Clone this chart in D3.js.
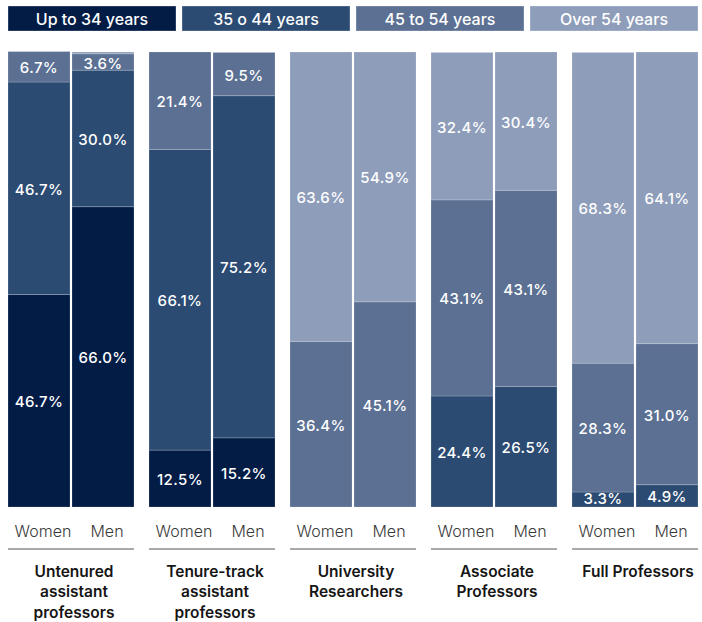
<!DOCTYPE html>
<html>
<head>
<meta charset="utf-8">
<script src="https://cdn.jsdelivr.net/npm/d3@7/dist/d3.min.js"></script>
<style>
  html, body { margin: 0; padding: 0; background: #ffffff; }
  svg { display: block; font-family: Inter, "Noto Sans", sans-serif; }
</style>
</head>
<body>
<svg id="chart" width="702" height="622"></svg>
<script>
// ---------- data ----------
const ageGroups = ["Up to 34 years", "35 o 44 years", "45 to 54 years", "Over 54 years"];
const categories = ["Untenured assistant professors", "Tenure-track assistant professors", "University Researchers", "Associate Professors", "Full Professors"];
const categoryLines = [
  ["Untenured", "assistant", "professors"],
  ["Tenure-track", "assistant", "professors"],
  ["University", "Researchers"],
  ["Associate", "Professors"],
  ["Full Professors"]
];
const genders = ["Women", "Men"];
// values per category, [women, men], each ordered by ageGroups (bottom to top)
const upTo34 = [[46.7, 66.0], [12.5, 15.2], [0, 0], [0, 0], [0, 0]];
const from35to44 = [[46.7, 30.0], [66.1, 75.2], [0, 0], [24.4, 26.5], [3.3, 4.9]];
const from45to54 = [[6.7, 3.6], [21.4, 9.5], [36.4, 45.1], [43.1, 43.1], [28.3, 31.0]];
const over54 = [[0, 0.4], [0, 0], [63.6, 54.9], [32.4, 30.4], [68.3, 64.1]];
const seriesValues = [upTo34, from35to44, from45to54, over54];
const colors = ["#021c46", "#2c4b72", "#5b7093", "#8e9dba"];

// ---------- build ----------
const svg = d3.select("#chart");
const color = d3.scaleOrdinal().domain(ageGroups).range(colors);

const x0 = d3.scaleBand().domain(categories).range([8, 698]).paddingInner(15 / 141);
const x1 = d3.scaleBand().domain(genders).range([0, x0.bandwidth()]).paddingInner(2 / 64);
const y = d3.scaleLinear().domain([0, 100]).range([507, 52]);

// legend
const lx = d3.scaleBand().domain(ageGroups).range([8, 698]).paddingInner(6 / 174);
const legend = svg.append("g").selectAll("g").data(ageGroups).join("g");
legend.append("rect")
  .attr("x", d => lx(d)).attr("y", 6)
  .attr("width", lx.bandwidth()).attr("height", 25)
  .attr("fill", d => color(d))
  .attr("stroke", "rgba(255,255,255,0.3)").attr("stroke-width", 1);
legend.append("text")
  .attr("x", d => lx(d) + lx.bandwidth() / 2).attr("y", 19)
  .attr("text-anchor", "middle").attr("dominant-baseline", "central")
  .attr("fill", "#ffffff").attr("font-size", 16).attr("font-weight", 500)
  .text(d => d);

// stacked bars
const records = [];
categories.forEach((c, ci) => {
  genders.forEach((g, gi) => {
    let acc = 0;
    ageGroups.forEach((a, ai) => {
      const v = seriesValues[ai][ci][gi];
      records.push({cat: c, gender: g, age: a, v: v, y0: acc, y1: acc + v});
      acc += v;
    });
  });
});
const barData = records.filter(d => d.v > 0);

const bars = svg.append("g");
bars.selectAll("rect").data(barData).join("rect")
  .attr("x", d => x0(d.cat) + x1(d.gender))
  .attr("width", x1.bandwidth())
  .attr("y", d => y(d.y1))
  .attr("height", d => y(d.y0) - y(d.y1))
  .attr("fill", d => color(d.age))
  .attr("stroke", "rgba(255,255,255,0.18)").attr("stroke-width", 1);

bars.selectAll("text").data(barData.filter(d => d.v >= 2)).join("text")
  .attr("x", d => x0(d.cat) + x1(d.gender) + x1.bandwidth() / 2)
  .attr("y", d => Math.min(y((d.y0 + d.y1) / 2) + 1, 498))
  .attr("text-anchor", "middle").attr("dominant-baseline", "central")
  .attr("fill", "#ffffff").attr("font-size", 15).attr("font-weight", 500)
  .attr("letter-spacing", 0.4)
  .text(d => d.v.toFixed(1) + "%");

// gender labels + rule lines
const axisG = svg.append("g");
categories.forEach((c, ci) => {
  const g = axisG.append("g");
  g.selectAll("text.gender").data(genders).join("text")
    .attr("class", "gender")
    .attr("x", d => x0(c) + x1(d) + x1.bandwidth() / 2 + 4)
    .attr("y", 531)
    .attr("text-anchor", "middle").attr("dominant-baseline", "central")
    .attr("fill", "#3a3a3a").attr("font-size", 16).attr("font-weight", 300)
    .text(d => d);
  g.append("line")
    .attr("x1", x0(c)).attr("x2", x0(c) + x0.bandwidth())
    .attr("y1", 549).attr("y2", 549)
    .attr("stroke", "#555555").attr("stroke-width", 1);
  g.selectAll("text.cat").data(categoryLines[ci]).join("text")
    .attr("class", "cat")
    .attr("x", x0(c) + x0.bandwidth() / 2 + 3)
    .attr("y", (d, i) => 571 + i * 20.5)
    .attr("text-anchor", "middle").attr("dominant-baseline", "central")
    .attr("fill", "#151515").attr("font-size", 15.5).attr("font-weight", 600)
    .text(d => d);
});
</script>
</body>
</html>
